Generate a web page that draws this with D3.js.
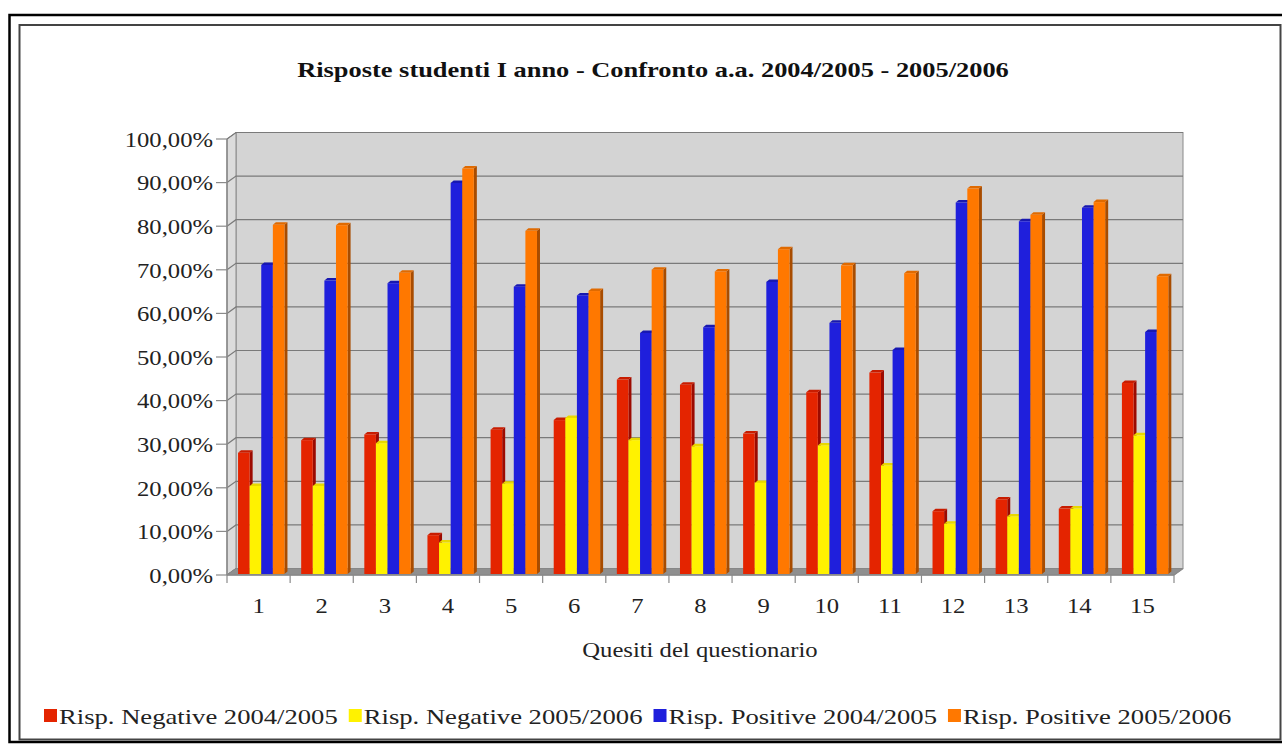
<!DOCTYPE html>
<html><head><meta charset="utf-8">
<script src="https://cdn.jsdelivr.net/npm/d3@7"></script>
<style>html,body{margin:0;padding:0;background:#fff;} svg{display:block;}</style>
</head><body>
<svg id="chart" width="1282" height="744"></svg>
<script>
const titleText = "Risposte studenti I anno - Confronto a.a. 2004/2005 - 2005/2006";
const xAxisTitle = "Quesiti del questionario";
const categories = ["1","2","3","4","5","6","7","8","9","10","11","12","13","14","15"];
const seriesNames = ["Risp. Negative 2004/2005","Risp. Negative 2005/2006","Risp. Positive 2004/2005","Risp. Positive 2005/2006"];
const negative0405 = [0.278,0.307,0.320,0.089,0.331,0.353,0.446,0.434,0.322,0.417,0.462,0.144,0.171,0.150,0.438];
const negative0506 = [0.202,0.202,0.300,0.072,0.207,0.358,0.307,0.293,0.209,0.295,0.249,0.115,0.132,0.150,0.318];
const positive0405 = [0.709,0.673,0.667,0.897,0.659,0.639,0.553,0.566,0.670,0.576,0.514,0.852,0.809,0.840,0.555];
const positive0506 = [0.801,0.800,0.691,0.930,0.787,0.649,0.698,0.694,0.745,0.708,0.690,0.884,0.824,0.853,0.683];
const yTicks = [0,0.1,0.2,0.3,0.4,0.5,0.6,0.7,0.8,0.9,1.0];

const seriesValues = [negative0405, negative0506, positive0405, positive0506];
const colors = [
  {front:"#e42400", side:"#9c0a00", top:"#c81c00"},
  {front:"#fff200", side:"#c9b800", top:"#e8d800"},
  {front:"#1f1fdc", side:"#0c0c8a", top:"#1818b0"},
  {front:"#ff7800", side:"#a84c00", top:"#e06a00"}
];

const svg = d3.select("#chart");
const FONT = "'Liberation Serif','Times New Roman',serif";

function stretch(sel, k){
  sel.each(function(){
    const L = this.getComputedTextLength();
    d3.select(this).attr("textLength",L*k).attr("lengthAdjust","spacingAndGlyphs");
  });
}

// frame
svg.append("rect").attr("x",9.5).attr("y",15).attr("width",1300).attr("height",727)
  .attr("fill","none").attr("stroke","#000").attr("stroke-width",2.5);
svg.append("rect").attr("x",19.5).attr("y",25).attr("width",1261).attr("height",714.5)
  .attr("fill","none").attr("stroke","#444").attr("stroke-width",2);

const x0 = 227, x1 = 1174, yBot = 575, yTop = 139;
const DX = 9, DY = 6.5; // wall depth
const x = d3.scaleBand().domain(categories).range([x0, x1]).padding(0);
const y = d3.scaleLinear().domain([0,1]).range([yBot, yTop]);
const bw = x.bandwidth();
const xs = d3.scaleBand().domain(d3.range(4)).range([bw*0.175, bw*0.91]).padding(0);

const g = svg.append("g");
g.append("rect").attr("x",x0+DX).attr("y",y(1)-DY).attr("width",x1-x0).attr("height",y(0)-y(1))
  .attr("fill","#d4d4d4").attr("stroke","#8a8a8a").attr("stroke-width",1);
g.append("path").attr("d",`M${x0},${y(0)}L${x0},${y(1)}L${x0+DX},${y(1)-DY}L${x0+DX},${y(0)-DY}Z`)
  .attr("fill","#dcdcdc").attr("stroke","#8a8a8a").attr("stroke-width",1);
yTicks.forEach(t=>{
  g.append("path").attr("d",`M${x0},${y(t)}L${x0+DX},${y(t)-DY}L${x1+DX},${y(t)-DY}`)
   .attr("fill","none").attr("stroke","#7a7a7a").attr("stroke-width",1.2);
});
g.append("path").attr("d",`M${x0},${y(0)}L${x0+DX},${y(0)-DY}L${x1+DX},${y(0)-DY}L${x1},${y(0)}Z`)
  .attr("fill","#8f8f8f").attr("stroke","#888").attr("stroke-width",0.8);

// bars
const bdx = 3, bdy = 2.5, offY = -1;
categories.forEach((c,i)=>{
  seriesValues.forEach((vals,s)=>{
    const v = vals[i];
    const xl = x(c) + xs(s), w = xs.bandwidth();
    const yb = y(0) + offY, yt = y(v) + offY;
    const col = colors[s];
    g.append("path").attr("d",`M${xl+w},${yt}L${xl+w+bdx},${yt-bdy}L${xl+w+bdx},${yb-bdy}L${xl+w},${yb}Z`).attr("fill",col.side);
    g.append("path").attr("d",`M${xl},${yt}L${xl+bdx},${yt-bdy}L${xl+w+bdx},${yt-bdy}L${xl+w},${yt}Z`).attr("fill",col.top);
    g.append("rect").attr("x",xl).attr("y",yt).attr("width",w).attr("height",yb-yt).attr("fill",col.front);
  });
});

// axes
const ax = svg.append("g");
ax.append("line").attr("x1",x0).attr("x2",x0).attr("y1",y(0)).attr("y2",y(1)).attr("stroke","#8a8a8a").attr("stroke-width",1.5);
ax.append("line").attr("x1",x0).attr("x2",x1).attr("y1",y(0)).attr("y2",y(0)).attr("stroke","#8a8a8a").attr("stroke-width",1.5);
ax.append("line").attr("x1",x1).attr("x2",x1+DX).attr("y1",y(0)).attr("y2",y(0)-DY).attr("stroke","#8a8a8a").attr("stroke-width",1.5);
const locale = d3.formatLocale({decimal:",", thousands:".", grouping:[3], currency:["","€"]});
const fmt = locale.format(".2%");
yTicks.forEach(t=>{
  ax.append("line").attr("x1",x0-11).attr("x2",x0).attr("y1",y(t)).attr("y2",y(t)).attr("stroke","#8a8a8a").attr("stroke-width",1.2);
  ax.append("text").attr("class","st").attr("x",x0-14).attr("y",y(t)).attr("dy","0.35em")
    .attr("text-anchor","end").attr("font-family",FONT).attr("font-size",22).attr("fill","#222").text(fmt(t));
});
categories.forEach((c,i)=>{
  ax.append("line").attr("x1",x(c)).attr("x2",x(c)).attr("y1",y(0)).attr("y2",y(0)+8).attr("stroke","#8a8a8a").attr("stroke-width",1.2);
  ax.append("text").attr("class","st").attr("x",x(c)+bw/2).attr("y",613)
    .attr("text-anchor","middle").attr("font-family",FONT).attr("font-size",22).attr("fill","#222").text(c);
});
ax.append("line").attr("x1",x1).attr("x2",x1).attr("y1",y(0)).attr("y2",y(0)+8).attr("stroke","#8a8a8a").attr("stroke-width",1.2);

svg.append("text").attr("class","st").attr("x",700).attr("y",657).attr("text-anchor","middle")
  .attr("font-family",FONT).attr("font-size",22).attr("fill","#222").text(xAxisTitle);
stretch(svg.selectAll("text.st"), 1.12);

const title = svg.append("text").attr("x",653).attr("y",77).attr("text-anchor","middle")
  .attr("font-family",FONT).attr("font-size",22).attr("font-weight","bold").attr("fill","#111").text(titleText);
stretch(title, 1.2);

// legend
let lx = 44;
seriesNames.forEach((n,s)=>{
  svg.append("rect").attr("x",lx).attr("y",709).attr("width",13).attr("height",13).attr("fill",colors[s].front);
  const t = svg.append("text").attr("x",lx+15).attr("y",724).attr("font-family",FONT).attr("font-size",22).attr("fill","#222").text(n);
  stretch(t, 1.21);
  lx += 15 + t.node().getComputedTextLength() + 11;
});
</script>
</body></html>
